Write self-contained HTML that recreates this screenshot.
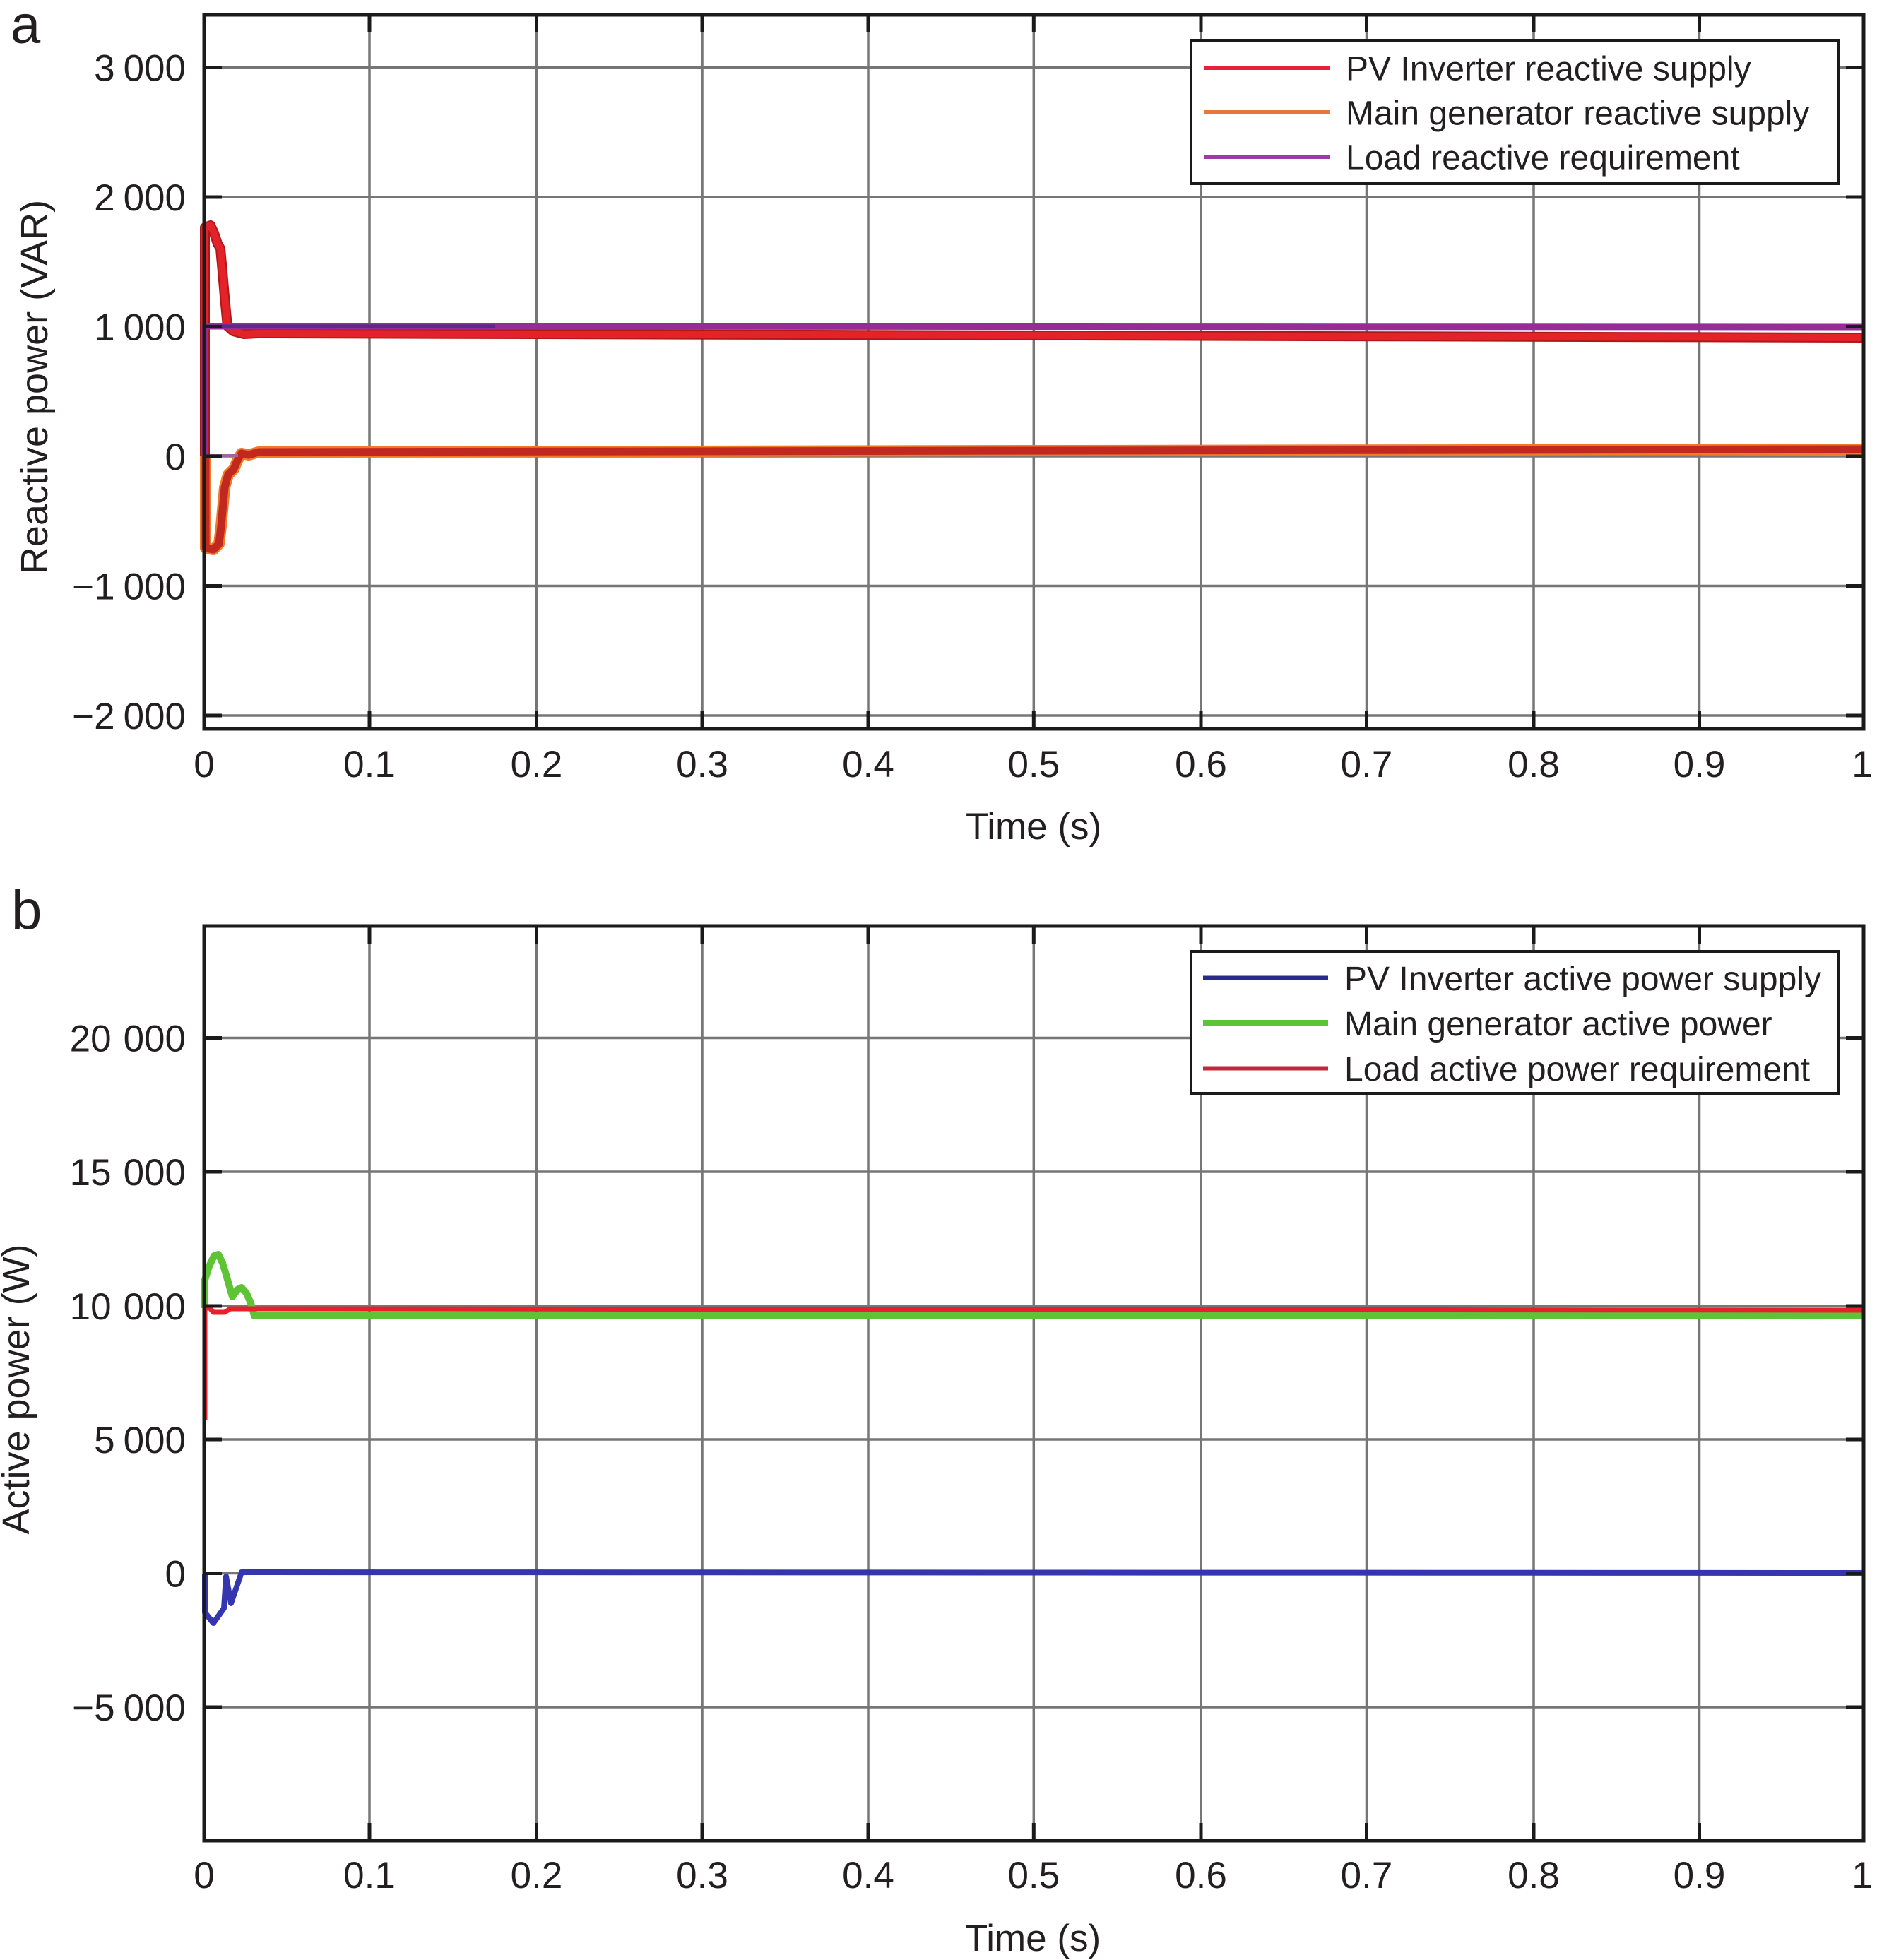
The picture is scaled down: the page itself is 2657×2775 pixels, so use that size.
<!DOCTYPE html>
<html>
<head>
<meta charset="utf-8">
<style>
html,body{margin:0;padding:0;background:#fff;}
svg{display:block;}
text{font-family:"Liberation Sans",Arial,sans-serif;fill:#231f20;}
</style>
</head>
<body>
<svg width="2657" height="2775" viewBox="0 0 2657 2775" xmlns="http://www.w3.org/2000/svg">
<rect x="0" y="0" width="2657" height="2775" fill="#fff"/>

<!-- ================= PLOT A ================= -->
<g stroke="#767676" stroke-width="3.5" fill="none">
  <line x1="523" y1="21" x2="523" y2="1032"/>
  <line x1="759.5" y1="21" x2="759.5" y2="1032"/>
  <line x1="994" y1="21" x2="994" y2="1032"/>
  <line x1="1229" y1="21" x2="1229" y2="1032"/>
  <line x1="1463.3" y1="21" x2="1463.3" y2="1032"/>
  <line x1="1700" y1="21" x2="1700" y2="1032"/>
  <line x1="1934.5" y1="21" x2="1934.5" y2="1032"/>
  <line x1="2171" y1="21" x2="2171" y2="1032"/>
  <line x1="2405.5" y1="21" x2="2405.5" y2="1032"/>
  <line x1="289" y1="95.5" x2="2638" y2="95.5"/>
  <line x1="289" y1="279" x2="2638" y2="279"/>
  <line x1="289" y1="462.5" x2="2638" y2="462.5"/>
  <line x1="289" y1="646" x2="2638" y2="646"/>
  <line x1="289" y1="829.5" x2="2638" y2="829.5"/>
  <line x1="289" y1="1013" x2="2638" y2="1013"/>
</g>

<!-- curves A -->
<polyline fill="none" stroke="#f07a28" stroke-width="16" stroke-linejoin="round"
  points="291,646 291,776 302,778 310,770 313,745 318,690 323,672 331,664 337,650 342,642 352,644 366,640 2638,636"/>
<polyline fill="none" stroke="#c02820" stroke-width="11" stroke-linejoin="round"
  points="291,646 291,776 302,778 310,770 313,745 318,690 323,672 331,664 337,650 342,642 352,644 366,640 2638,636"/>
<line x1="290" y1="645" x2="337" y2="645" stroke="#9a6a9a" stroke-width="4"/>
<polyline fill="none" stroke="#b01818" stroke-width="14" stroke-linejoin="round"
  points="290,646 290,322 298,319 303,330 308,345 312,352 315,385 318,420 322,462 330,469 345,473 365,472 2638,478"/>
<polyline fill="none" stroke="#e4222a" stroke-width="10" stroke-linejoin="round"
  points="290,646 290,322 298,319 303,330 308,345 312,352 315,385 318,420 322,462 330,469 345,473 365,472 2638,478"/>
<polyline fill="none" stroke="#962c96" stroke-width="9" stroke-linejoin="round"
  points="290,646 290,462 2638,463"/>
<line x1="290" y1="462" x2="700" y2="462" stroke="#5a2a8a" stroke-width="5"/>

<!-- frame A -->
<rect x="289" y="21" width="2349" height="1011" fill="none" stroke="#1a1a1a" stroke-width="5"/>
<g stroke="#1a1a1a" stroke-width="5">
  <line x1="523" y1="21" x2="523" y2="46"/><line x1="523" y1="1032" x2="523" y2="1007"/>
  <line x1="759.5" y1="21" x2="759.5" y2="46"/><line x1="759.5" y1="1032" x2="759.5" y2="1007"/>
  <line x1="994" y1="21" x2="994" y2="46"/><line x1="994" y1="1032" x2="994" y2="1007"/>
  <line x1="1229" y1="21" x2="1229" y2="46"/><line x1="1229" y1="1032" x2="1229" y2="1007"/>
  <line x1="1463.3" y1="21" x2="1463.3" y2="46"/><line x1="1463.3" y1="1032" x2="1463.3" y2="1007"/>
  <line x1="1700" y1="21" x2="1700" y2="46"/><line x1="1700" y1="1032" x2="1700" y2="1007"/>
  <line x1="1934.5" y1="21" x2="1934.5" y2="46"/><line x1="1934.5" y1="1032" x2="1934.5" y2="1007"/>
  <line x1="2171" y1="21" x2="2171" y2="46"/><line x1="2171" y1="1032" x2="2171" y2="1007"/>
  <line x1="2405.5" y1="21" x2="2405.5" y2="46"/><line x1="2405.5" y1="1032" x2="2405.5" y2="1007"/>
  <line x1="289" y1="95.5" x2="314" y2="95.5"/><line x1="2638" y1="95.5" x2="2613" y2="95.5"/>
  <line x1="289" y1="279" x2="314" y2="279"/><line x1="2638" y1="279" x2="2613" y2="279"/>
  <line x1="289" y1="462.5" x2="314" y2="462.5"/><line x1="2638" y1="462.5" x2="2613" y2="462.5"/>
  <line x1="289" y1="646" x2="314" y2="646"/><line x1="2638" y1="646" x2="2613" y2="646"/>
  <line x1="289" y1="829.5" x2="314" y2="829.5"/><line x1="2638" y1="829.5" x2="2613" y2="829.5"/>
  <line x1="289" y1="1013" x2="314" y2="1013"/><line x1="2638" y1="1013" x2="2613" y2="1013"/>
</g>

<!-- legend A -->
<rect x="1686" y="57" width="916" height="203" fill="#fff" stroke="#1a1a1a" stroke-width="4"/>
<line x1="1704" y1="96" x2="1883" y2="96" stroke="#e8203c" stroke-width="6"/>
<line x1="1704" y1="159" x2="1883" y2="159" stroke="#e8783a" stroke-width="6"/>
<line x1="1704" y1="222" x2="1883" y2="222" stroke="#a03aa8" stroke-width="6"/>
<g font-size="48">
  <text x="1905" y="113.5">PV Inverter reactive supply</text>
  <text x="1905" y="176.5">Main generator reactive supply</text>
  <text x="1905" y="239.5">Load reactive requirement</text>
</g>

<!-- tick labels A -->
<g font-size="53" text-anchor="end">
  <text x="263" y="114.5">3<tspan dx="12">000</tspan></text>
  <text x="263" y="298">2<tspan dx="12">000</tspan></text>
  <text x="263" y="481.5">1<tspan dx="12">000</tspan></text>
  <text x="263" y="665">0</text>
  <text x="263" y="848.5">−1<tspan dx="12">000</tspan></text>
  <text x="263" y="1032">−2<tspan dx="12">000</tspan></text>
</g>
<g font-size="53" text-anchor="middle">
  <text x="289" y="1100">0</text>
  <text x="523" y="1100">0.1</text>
  <text x="759.5" y="1100">0.2</text>
  <text x="994" y="1100">0.3</text>
  <text x="1229" y="1100">0.4</text>
  <text x="1463.3" y="1100">0.5</text>
  <text x="1700" y="1100">0.6</text>
  <text x="1934.5" y="1100">0.7</text>
  <text x="2171" y="1100">0.8</text>
  <text x="2405.5" y="1100">0.9</text>
  <text x="2636" y="1100">1</text>
  <text x="1463" y="1188">Time (s)</text>
</g>
<text font-size="54" text-anchor="middle" transform="translate(67,548) rotate(-90)">Reactive power (VAR)</text>
<text x="15" y="61" font-size="76">a</text>

<!-- ================= PLOT B ================= -->
<g stroke="#767676" stroke-width="3.5" fill="none">
  <line x1="523" y1="1311" x2="523" y2="2606"/>
  <line x1="759.5" y1="1311" x2="759.5" y2="2606"/>
  <line x1="994" y1="1311" x2="994" y2="2606"/>
  <line x1="1229" y1="1311" x2="1229" y2="2606"/>
  <line x1="1463.3" y1="1311" x2="1463.3" y2="2606"/>
  <line x1="1700" y1="1311" x2="1700" y2="2606"/>
  <line x1="1934.5" y1="1311" x2="1934.5" y2="2606"/>
  <line x1="2171" y1="1311" x2="2171" y2="2606"/>
  <line x1="2405.5" y1="1311" x2="2405.5" y2="2606"/>
  <line x1="289" y1="1469.5" x2="2638" y2="1469.5"/>
  <line x1="289" y1="1659" x2="2638" y2="1659"/>
  <line x1="289" y1="1849" x2="2638" y2="1849"/>
  <line x1="289" y1="2038" x2="2638" y2="2038"/>
  <line x1="289" y1="2227.5" x2="2638" y2="2227.5"/>
  <line x1="289" y1="2417" x2="2638" y2="2417"/>
</g>

<!-- curves B -->
<polyline fill="none" stroke="#5ec436" stroke-width="10" stroke-linejoin="round"
  points="290,1852 290,1812 296,1793 303,1778 309,1776 315,1788 321,1808 329,1836 336,1826 342,1823 349,1831 355,1845 360,1863 2638,1863"/>
<polyline fill="none" stroke="#e8202c" stroke-width="7" stroke-linejoin="round"
  points="290,2010 290,1852 297,1852 302,1858 318,1858 326,1853 2638,1855"/>
<polyline fill="none" stroke="#3535b0" stroke-width="8" stroke-linejoin="round"
  points="290,2228 290,2283 302,2298 317,2277 320,2232 327,2270 342,2226 2638,2227"/>

<!-- frame B -->
<rect x="289" y="1311" width="2349" height="1295" fill="none" stroke="#1a1a1a" stroke-width="5"/>
<g stroke="#1a1a1a" stroke-width="5">
  <line x1="523" y1="1311" x2="523" y2="1336"/><line x1="523" y1="2606" x2="523" y2="2581"/>
  <line x1="759.5" y1="1311" x2="759.5" y2="1336"/><line x1="759.5" y1="2606" x2="759.5" y2="2581"/>
  <line x1="994" y1="1311" x2="994" y2="1336"/><line x1="994" y1="2606" x2="994" y2="2581"/>
  <line x1="1229" y1="1311" x2="1229" y2="1336"/><line x1="1229" y1="2606" x2="1229" y2="2581"/>
  <line x1="1463.3" y1="1311" x2="1463.3" y2="1336"/><line x1="1463.3" y1="2606" x2="1463.3" y2="2581"/>
  <line x1="1700" y1="1311" x2="1700" y2="1336"/><line x1="1700" y1="2606" x2="1700" y2="2581"/>
  <line x1="1934.5" y1="1311" x2="1934.5" y2="1336"/><line x1="1934.5" y1="2606" x2="1934.5" y2="2581"/>
  <line x1="2171" y1="1311" x2="2171" y2="1336"/><line x1="2171" y1="2606" x2="2171" y2="2581"/>
  <line x1="2405.5" y1="1311" x2="2405.5" y2="1336"/><line x1="2405.5" y1="2606" x2="2405.5" y2="2581"/>
  <line x1="289" y1="1469.5" x2="314" y2="1469.5"/><line x1="2638" y1="1469.5" x2="2613" y2="1469.5"/>
  <line x1="289" y1="1659" x2="314" y2="1659"/><line x1="2638" y1="1659" x2="2613" y2="1659"/>
  <line x1="289" y1="1849" x2="314" y2="1849"/><line x1="2638" y1="1849" x2="2613" y2="1849"/>
  <line x1="289" y1="2038" x2="314" y2="2038"/><line x1="2638" y1="2038" x2="2613" y2="2038"/>
  <line x1="289" y1="2227.5" x2="314" y2="2227.5"/><line x1="2638" y1="2227.5" x2="2613" y2="2227.5"/>
  <line x1="289" y1="2417" x2="314" y2="2417"/><line x1="2638" y1="2417" x2="2613" y2="2417"/>
</g>

<!-- legend B -->
<rect x="1686" y="1347" width="916" height="201" fill="#fff" stroke="#1a1a1a" stroke-width="4"/>
<line x1="1703" y1="1384.5" x2="1880" y2="1384.5" stroke="#2a2a8c" stroke-width="6"/>
<line x1="1703" y1="1448.5" x2="1880" y2="1448.5" stroke="#5ec436" stroke-width="9"/>
<line x1="1703" y1="1512.5" x2="1880" y2="1512.5" stroke="#c0283c" stroke-width="6"/>
<g font-size="48">
  <text x="1903" y="1402">PV Inverter active power supply</text>
  <text x="1903" y="1466">Main generator active power</text>
  <text x="1903" y="1530">Load active power requirement</text>
</g>

<!-- tick labels B -->
<g font-size="53" text-anchor="end">
  <text x="263" y="1488.5">20<tspan dx="17">000</tspan></text>
  <text x="263" y="1678">15<tspan dx="17">000</tspan></text>
  <text x="263" y="1868">10<tspan dx="17">000</tspan></text>
  <text x="263" y="2057">5<tspan dx="12">000</tspan></text>
  <text x="263" y="2246.5">0</text>
  <text x="263" y="2436">−5<tspan dx="12">000</tspan></text>
</g>
<g font-size="53" text-anchor="middle">
  <text x="289" y="2673">0</text>
  <text x="523" y="2673">0.1</text>
  <text x="759.5" y="2673">0.2</text>
  <text x="994" y="2673">0.3</text>
  <text x="1229" y="2673">0.4</text>
  <text x="1463.3" y="2673">0.5</text>
  <text x="1700" y="2673">0.6</text>
  <text x="1934.5" y="2673">0.7</text>
  <text x="2171" y="2673">0.8</text>
  <text x="2405.5" y="2673">0.9</text>
  <text x="2636" y="2673">1</text>
  <text x="1462" y="2762">Time (s)</text>
</g>
<text font-size="54" text-anchor="middle" transform="translate(41,1967) rotate(-90)">Active power (W)</text>
<text x="16" y="1315" font-size="78">b</text>
</svg>
</body>
</html>
